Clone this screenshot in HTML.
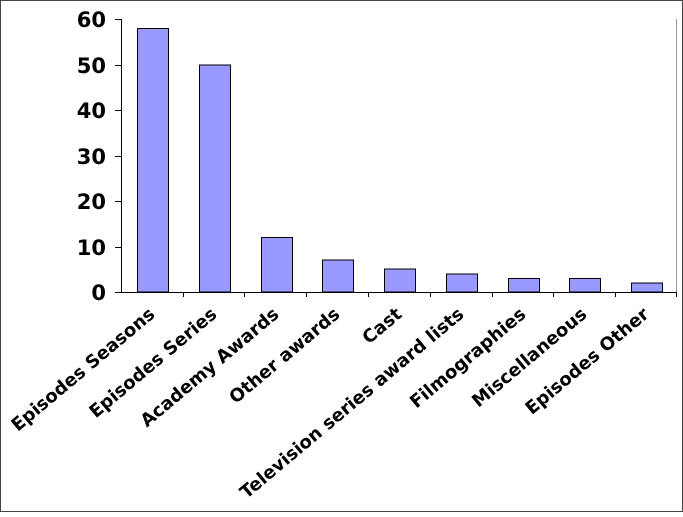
<!DOCTYPE html>
<html><head><style>html,body{margin:0;padding:0;background:#fff}</style></head><body>
<svg width="683" height="512" viewBox="0 0 683 512" xmlns="http://www.w3.org/2000/svg" font-family="'DejaVu Sans','Liberation Sans',sans-serif" font-weight="bold">
<rect x="0.5" y="0.5" width="682" height="511" fill="#fff" stroke="#444"/>
<line x1="676.5" y1="19" x2="676.5" y2="292" stroke="#999"/>
<g fill="#9999ff" stroke="#000" stroke-width="1">
<rect x="137.5" y="28.5" width="31" height="263.5"/>
<rect x="199.5" y="65" width="31" height="227"/>
<rect x="261.5" y="237.5" width="31" height="54.5"/>
<rect x="322.5" y="260" width="31" height="32"/>
<rect x="384.5" y="269" width="31" height="23"/>
<rect x="446.5" y="274" width="31" height="18"/>
<rect x="508.5" y="278.5" width="31" height="13.5"/>
<rect x="569.5" y="278.5" width="31" height="13.5"/>
<rect x="631.5" y="283" width="31" height="9"/>
</g>
<g stroke="#000">
<line x1="121.5" y1="19" x2="121.5" y2="292"/>
<line x1="121" y1="292.5" x2="677" y2="292.5"/>
<line x1="115" y1="19.5" x2="121" y2="19.5"/>
<line x1="115" y1="65.5" x2="121" y2="65.5"/>
<line x1="115" y1="110.5" x2="121" y2="110.5"/>
<line x1="115" y1="156.5" x2="121" y2="156.5"/>
<line x1="115" y1="201.5" x2="121" y2="201.5"/>
<line x1="115" y1="247.5" x2="121" y2="247.5"/>
<line x1="115" y1="292.5" x2="121" y2="292.5"/>
<line x1="183.5" y1="292" x2="183.5" y2="297"/>
<line x1="244.5" y1="292" x2="244.5" y2="297"/>
<line x1="306.5" y1="292" x2="306.5" y2="297"/>
<line x1="368.5" y1="292" x2="368.5" y2="297"/>
<line x1="430.5" y1="292" x2="430.5" y2="297"/>
<line x1="492.5" y1="292" x2="492.5" y2="297"/>
<line x1="553.5" y1="292" x2="553.5" y2="297"/>
<line x1="615.5" y1="292" x2="615.5" y2="297"/>
<line x1="676.5" y1="292" x2="676.5" y2="297"/>
</g>
<g font-size="21" text-anchor="end" fill="#000">
<text x="106" y="27">60</text>
<text x="106" y="73">50</text>
<text x="106" y="118">40</text>
<text x="106" y="164">30</text>
<text x="106" y="209">20</text>
<text x="106" y="255">10</text>
<text x="106" y="300">0</text>
</g>
<g font-size="18" text-anchor="end" fill="#000">
<text transform="translate(156,316) rotate(-40)">Episodes Seasons</text>
<text transform="translate(218,316) rotate(-40)">Episodes Series</text>
<text transform="translate(280,316) rotate(-40)">Academy Awards</text>
<text transform="translate(341,316) rotate(-40)">Other awards</text>
<text transform="translate(403,316) rotate(-40)">Cast</text>
<text transform="translate(465,316) rotate(-40)">Television series award lists</text>
<text transform="translate(527,316) rotate(-40)">Filmographies</text>
<text transform="translate(588,316) rotate(-40)">Miscellaneous</text>
<text transform="translate(650,316) rotate(-40)">Episodes Other</text>
</g>
</svg>
</body></html>
